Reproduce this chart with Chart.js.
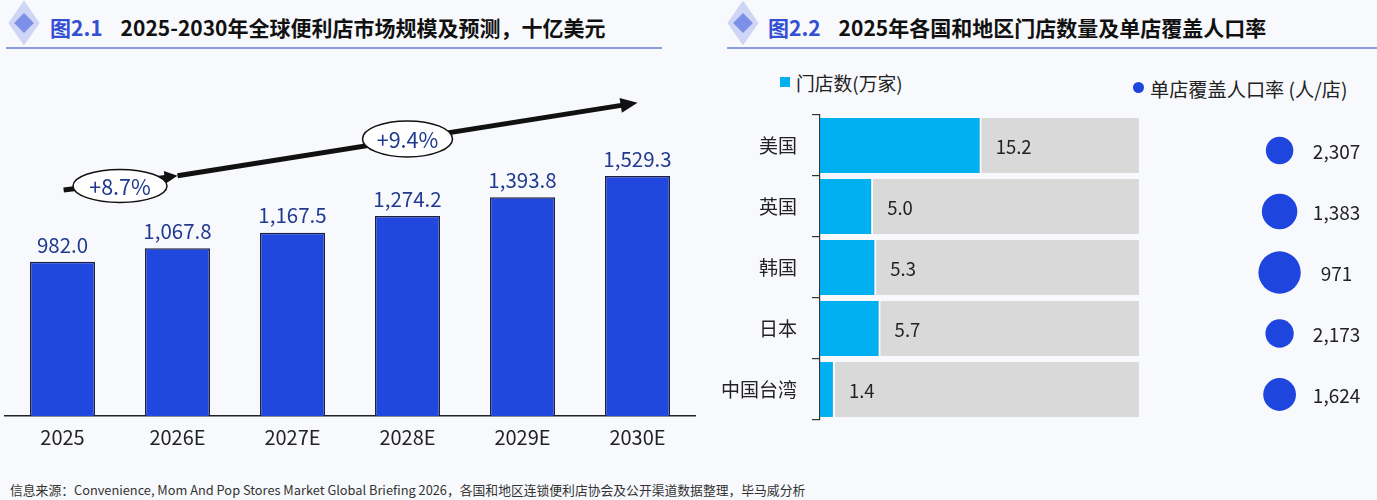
<!DOCTYPE html>
<html>
<head>
<meta charset="utf-8">
<script src="https://cdn.jsdelivr.net/npm/chart.js@4.4.1/dist/chart.umd.min.js"></script>
<style>
body{margin:0;width:1377px;height:500px;background:#f8f9fc;font-family:"Noto Sans CJK SC","Noto Sans",sans-serif;position:relative;overflow:hidden}
.title{position:absolute;top:11px;font-size:21px;font-weight:bold;color:#111;white-space:nowrap;line-height:32px}
.title .num{color:#3350d2;margin-right:18px}
.icon{position:absolute;top:5px;width:24px;height:36px}
.icon .back{position:absolute;left:1px;top:7px;width:22px;height:22px;background:#cfd6f5;transform:scaleY(1.45) rotate(45deg)}
.icon .front{position:absolute;left:5px;top:11px;width:14px;height:14px;background:#7d90e8;transform:rotate(45deg)}
.rule{position:absolute;top:47px;height:2px;background:#8c9ee2}
.box{position:absolute}
.legend{position:absolute;color:#222;white-space:nowrap;line-height:22px}
.legend i{display:inline-block;margin-right:6px;vertical-align:4px}
.footer{position:absolute;left:10px;top:480px;font-size:12.8px;color:#333;white-space:nowrap}
</style>
</head>
<body>
<div class="icon" style="left:12px"><div class="back"></div><div class="front"></div></div>
<div class="title" style="left:50px"><span class="num">图2.1</span>2025-2030年全球便利店市场规模及预测，十亿美元</div>
<div class="rule" style="left:6px;width:656px"></div>

<div class="icon" style="left:731px"><div class="back"></div><div class="front"></div></div>
<div class="title" style="left:768px"><span class="num">图2.2</span>2025年各国和地区门店数量及单店覆盖人口率</div>
<div class="rule" style="left:727px;width:650px"></div>

<div class="legend" style="left:780px;top:72px;font-size:18.8px"><i style="width:10px;height:10px;background:#00b0f0"></i>门店数(万家)</div>
<div class="legend" style="left:1133px;top:78px;font-size:19.2px"><i style="width:11px;height:11px;border-radius:50%;background:#1f45df"></i>单店覆盖人口率 (人/店)</div>

<div class="box" style="left:0;top:55px;width:700px;height:420px"><canvas id="marketChart"></canvas></div>
<div class="box" style="left:700px;top:55px;width:460px;height:400px"><canvas id="storeChart"></canvas></div>
<div class="box" style="left:1190px;top:55px;width:187px;height:400px"><canvas id="popChart"></canvas></div>

<div class="footer">信息来源：Convenience, Mom And Pop Stores Market Global Briefing 2026，各国和地区连锁便利店协会及公开渠道数据整理，毕马威分析</div>

<script>
const years = ['2025', '2026E', '2027E', '2028E', '2029E', '2030E'];
const marketSize = [982.0, 1067.8, 1167.5, 1274.2, 1393.8, 1529.3];
const growthLabels = ['+8.7%', '+9.4%'];

const regions = ['美国', '英国', '韩国', '日本', '中国台湾'];
const storeCount = [15.2, 5.0, 5.3, 5.7, 1.4];
const storeTrack = [30, 30, 30, 30, 30];
const popPerStore = [2307, 1383, 971, 2173, 1624];

const FONT = '"Noto Sans CJK SC", "Noto Sans", sans-serif';
const fmt1 = v => v.toLocaleString('en-US', {minimumFractionDigits: 1, maximumFractionDigits: 1});

// value labels above the columns
const barLabels = {
    id: 'barLabels',
    afterDatasetsDraw(chart) {
        const ctx = chart.ctx;
        const meta = chart.getDatasetMeta(0);
        ctx.save();
        ctx.font = '20.5px ' + FONT;
        ctx.fillStyle = '#1f3a8f';
        ctx.textAlign = 'center';
        ctx.textBaseline = 'middle';
        meta.data.forEach((bar, i) => {
            ctx.fillText(fmt1(marketSize[i]), bar.x, bar.y - 17);
        });
        ctx.restore();
    }
};

function arrowHead(ctx, x0, y0, x1, y1, len, wid) {
    const a = Math.atan2(y1 - y0, x1 - x0);
    ctx.beginPath();
    ctx.moveTo(x1, y1);
    ctx.lineTo(x1 - len * Math.cos(a) + wid / 2 * Math.sin(a), y1 - len * Math.sin(a) - wid / 2 * Math.cos(a));
    ctx.lineTo(x1 - len * Math.cos(a) - wid / 2 * Math.sin(a), y1 - len * Math.sin(a) + wid / 2 * Math.cos(a));
    ctx.closePath();
    ctx.fill();
}

// growth arrows with the CAGR bubbles, placed in data units
const growthArrows = {
    id: 'growthArrows',
    afterDatasetsDraw(chart) {
        const ctx = chart.ctx, xs = chart.scales.x, ys = chart.scales.y;
        const px = v => xs.left + (v + 0.5) * (xs.right - xs.left) / years.length;
        const p = (i, v) => [px(i), ys.getPixelForValue(v)];
        const a0 = p(0.01, 1440), a1 = p(1.0, 1530), a2 = p(5, 1995);
        ctx.save();
        ctx.strokeStyle = '#111';
        ctx.fillStyle = '#111';
        ctx.lineWidth = 5;
        ctx.beginPath();
        ctx.moveTo(a0[0], a0[1]);
        ctx.lineTo(a1[0] - 6, a1[1] + 1);
        ctx.stroke();
        arrowHead(ctx, a0[0], a0[1], a1[0], a1[1], 13, 13);
        ctx.beginPath();
        ctx.moveTo(a1[0], a1[1]);
        ctx.lineTo(a2[0] - 10, a2[1] + 1.6);
        ctx.stroke();
        arrowHead(ctx, a1[0], a1[1], a2[0], a2[1], 17, 15);

        const bubbles = [[p(0.5, 1465), 94, 33], [p(3.0, 1765), 90, 36]];
        bubbles.forEach(([c, w, h], k) => {
            ctx.beginPath();
            ctx.ellipse(c[0], c[1], w / 2, h / 2, 0, 0, Math.PI * 2);
            ctx.fillStyle = '#fff';
            ctx.fill();
            ctx.lineWidth = 1.5;
            ctx.strokeStyle = '#111';
            ctx.stroke();
            ctx.fillStyle = '#1f3a8f';
            ctx.font = '21.5px ' + FONT;
            ctx.textAlign = 'center';
            ctx.textBaseline = 'middle';
            ctx.fillText(growthLabels[k], c[0], c[1] + 1);
        });
        ctx.restore();
    }
};

new Chart(document.getElementById('marketChart'), {
    type: 'bar',
    data: {
        labels: years,
        datasets: [{
            data: marketSize,
            backgroundColor: '#2148de',
            borderColor: '#1b1f45',
            borderWidth: 1.5,
            borderSkipped: 'bottom',
            categoryPercentage: 1,
            barPercentage: 0.565
        }]
    },
    options: {
        responsive: true,
        maintainAspectRatio: false,
        animation: false,
        layout: { padding: { top: 47, left: 5, right: 5, bottom: 19 } },
        plugins: { legend: { display: false }, tooltip: { enabled: false } },
        scales: {
            x: {
                grid: { display: false },
                border: { display: true, color: '#222', width: 1.5 },
                ticks: { color: '#222', font: { family: FONT, size: 20 }, padding: 1 },
                afterFit(s) { s.height = 40; }
            },
            y: { display: false, min: 0, max: 2000 }
        }
    },
    plugins: [barLabels, growthArrows]
});

// store count labels at the end of each cyan bar
const storeLabels = {
    id: 'storeLabels',
    afterDatasetsDraw(chart) {
        const ctx = chart.ctx;
        const meta = chart.getDatasetMeta(0);
        ctx.save();
        ctx.font = '18.5px ' + FONT;
        ctx.fillStyle = '#222';
        ctx.textAlign = 'left';
        ctx.textBaseline = 'middle';
        meta.data.forEach((bar, i) => {
            ctx.fillText(storeCount[i].toFixed(1), bar.x + 14, bar.y + 1);
        });
        ctx.restore();
    }
};

new Chart(document.getElementById('storeChart'), {
    type: 'bar',
    data: {
        labels: regions,
        datasets: [{
            data: storeCount,
            backgroundColor: '#00b0f0',
            borderColor: '#ffffff',
            borderWidth: { right: 2, left: 0, top: 0, bottom: 0 },
            borderSkipped: 'start',
            grouped: false,
            order: 0,
            categoryPercentage: 1,
            barPercentage: 0.9
        }, {
            data: storeTrack,
            backgroundColor: '#d9d9d9',
            borderWidth: 0,
            grouped: false,
            order: 1,
            categoryPercentage: 1,
            barPercentage: 0.9
        }]
    },
    options: {
        indexAxis: 'y',
        responsive: true,
        maintainAspectRatio: false,
        animation: false,
        layout: { padding: { top: 60, left: 0, right: 21, bottom: 35 } },
        plugins: { legend: { display: false }, tooltip: { enabled: false } },
        scales: {
            x: { display: false, min: 0, max: 30 },
            y: {
                grid: { drawOnChartArea: false, drawTicks: true, tickLength: 8, color: '#333', lineWidth: 1.2 },
                border: { display: true, color: '#333', width: 1.2 },
                ticks: { color: '#222', font: { family: FONT, size: 19 }, padding: 15 },
                afterFit(s) { s.width = 120; }
            }
        }
    },
    plugins: [storeLabels]
});

// population per store: bubble labels to the right
const popLabels = {
    id: 'popLabels',
    afterDatasetsDraw(chart) {
        const ctx = chart.ctx;
        const meta = chart.getDatasetMeta(0);
        ctx.save();
        ctx.font = '19px ' + FONT;
        ctx.fillStyle = '#222';
        ctx.textAlign = 'center';
        ctx.textBaseline = 'middle';
        meta.data.forEach((pt, i) => {
            ctx.fillText(popPerStore[i].toLocaleString('en-US'), pt.x + 57, pt.y + 1);
        });
        ctx.restore();
    }
};

new Chart(document.getElementById('popChart'), {
    type: 'bubble',
    data: {
        datasets: [{
            data: popPerStore.map((v, i) => ({ x: 0, y: regions[i], v: v })),
            backgroundColor: '#1f45df',
            borderWidth: 0,
            radius: ctx => 660 / Math.sqrt(ctx.raw.v)
        }]
    },
    options: {
        responsive: true,
        maintainAspectRatio: false,
        animation: false,
        layout: { padding: { top: 65, left: 0, right: 29, bottom: 30 } },
        plugins: { legend: { display: false }, tooltip: { enabled: false } },
        scales: {
            x: { display: false, min: -1, max: 1 },
            y: { type: 'category', labels: regions, offset: true, display: false }
        }
    },
    plugins: [popLabels]
});
</script>
</body>
</html>
